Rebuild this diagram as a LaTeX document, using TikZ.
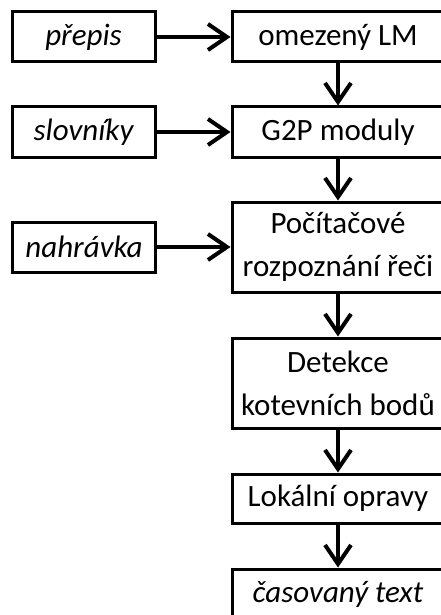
\documentclass[tikz,border=0pt]{standalone}
\usepackage{fontspec}
\setmainfont{Carlito}
\usetikzlibrary{arrows.meta}
\begin{document}
\begin{tikzpicture}[x=1pt,y=-1pt,
  every node/.style={font=\fontsize{31}{43}\selectfont},
  blok/.style={draw,line width=3pt,inner sep=0pt,align=center,minimum width=212pt,minimum height=50pt},
  vstup/.style={draw,line width=3pt,inner sep=0pt,align=center,minimum width=143pt,minimum height=50pt,font=\fontsize{31}{43}\selectfont\itshape},
  sipka/.style={line width=4pt,-{Straight Barb[length=19pt,width=26pt,line width=4pt]}}]
\useasboundingbox (0,0) rectangle (441,615);
\clip (0,0) rectangle (441,615);
% input boxes
\node[vstup] (prepis) at (83.5,37) {přepis};
\node[vstup] (slov) at (83.5,132) {slovníky};
\node[vstup] (nahr) at (84,247) {nahrávka};
% processing chain
\node[blok] (lm) at (338,37) {omezený LM};
\node[blok] (g2p) at (338,132) {G2P moduly};
\node[blok,minimum height=90pt] (asr) at (338,247) {Počítačové\\rozpoznání řeči};
\node[blok,minimum height=90pt] (det) at (338,383) {Detekce\\kotevních bodů};
\node[blok,minimum height=49pt] (lok) at (338,498.5) {Lokální opravy};
\node[blok,font=\fontsize{31}{43}\selectfont\itshape] (cas) at (338,594) {časovaný text};
% connectors
\draw[sipka] (prepis) -- (lm);
\draw[sipka] (slov) -- (g2p);
\draw[sipka] (nahr) -- (asr.west |- nahr);
\draw[sipka] (lm) -- (g2p);
\draw[sipka] (g2p) -- (asr);
\draw[sipka] (asr) -- (det);
\draw[sipka] (det) -- (lok);
\draw[sipka] (lok) -- (cas);
\end{tikzpicture}
\end{document}
